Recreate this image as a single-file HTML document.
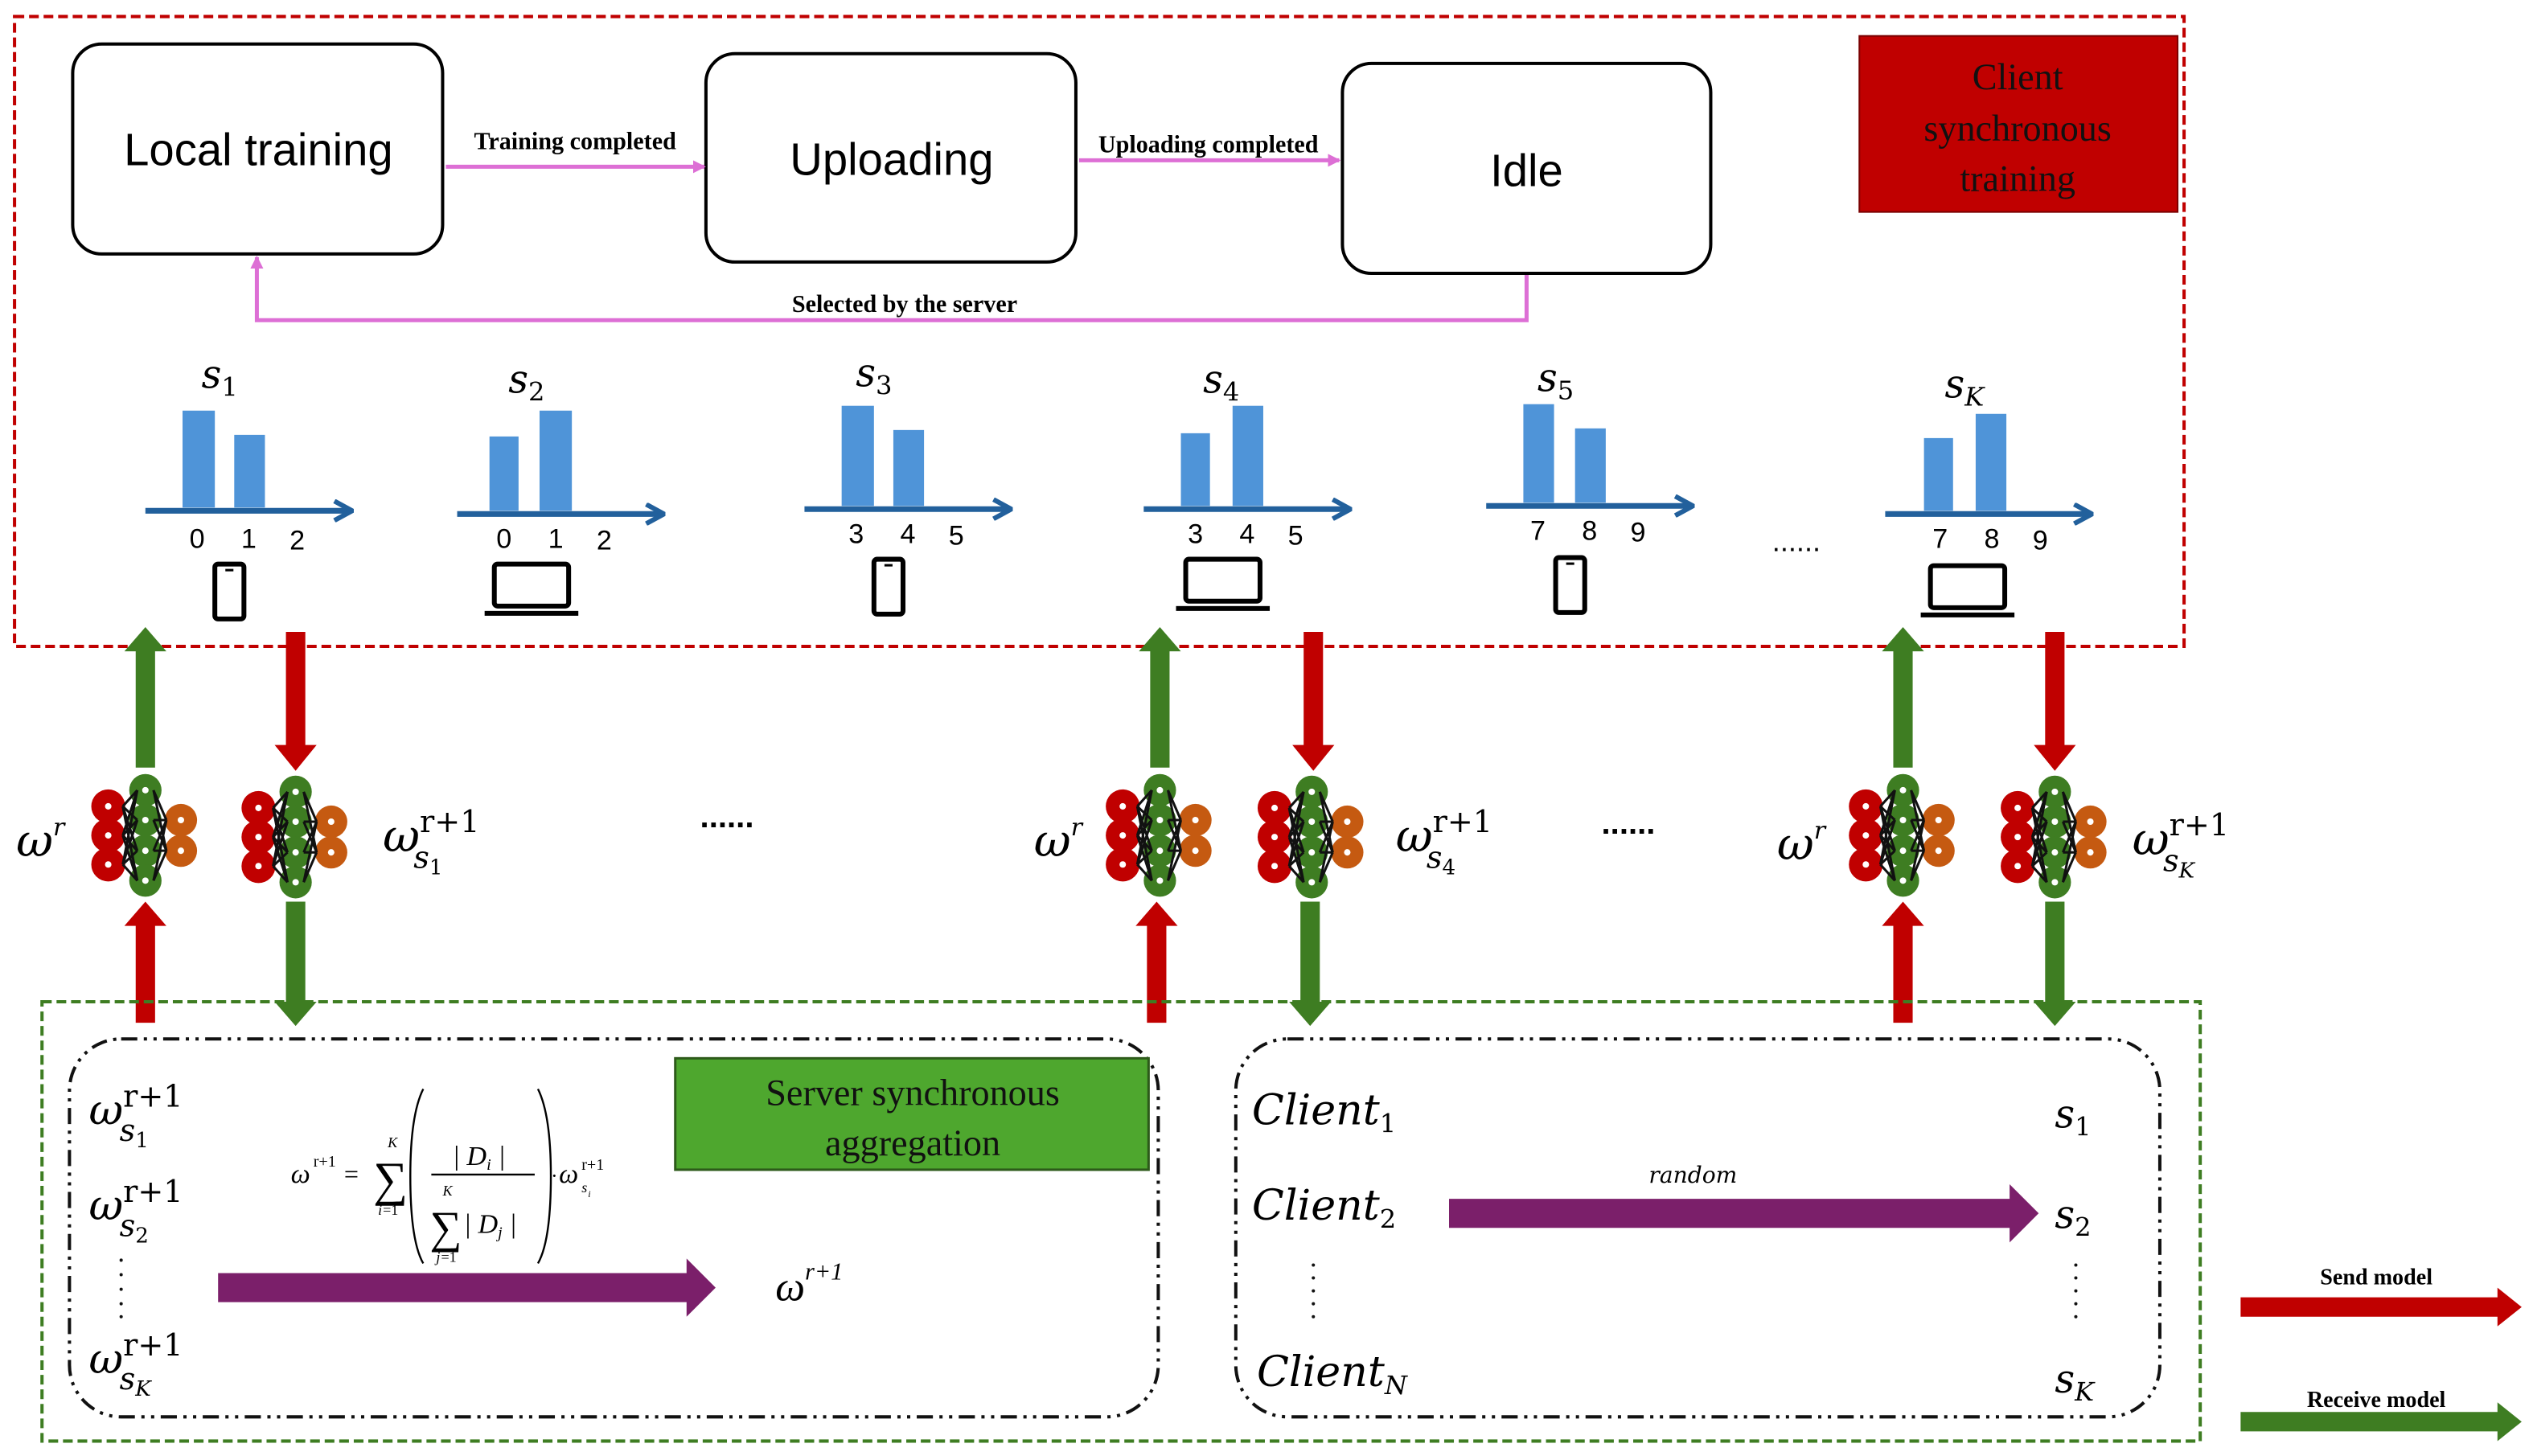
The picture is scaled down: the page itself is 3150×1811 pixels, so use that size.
<!DOCTYPE html>
<html><head><meta charset="utf-8"><style>
html,body{margin:0;padding:0;background:#fff;}
svg{display:block;}
.serif{font-family:"Liberation Serif",serif;}
.sans{font-family:"Liberation Sans",sans-serif;}
.m{font-family:"DejaVu Serif","Liberation Serif",serif;font-style:italic;}
</style></head><body>
<svg width="3150" height="1811" viewBox="0 0 1568 901" xmlns="http://www.w3.org/2000/svg">
<defs>
<g id="net">
  <g fill="#c00000"><circle cx="-23" cy="-18" r="10.5"/><circle cx="-23" cy="0" r="10.5"/><circle cx="-23" cy="18" r="10.5"/></g>
  <g fill="#c55a11"><circle cx="22" cy="-9.5" r="10"/><circle cx="22" cy="9.5" r="10"/></g>
  <g fill="#3e7d22"><circle cx="0" cy="-28" r="10"/><circle cx="0" cy="-9.5" r="10"/><circle cx="0" cy="9.5" r="10"/><circle cx="0" cy="28" r="10"/></g>
  <g stroke="#111" stroke-width="1.5" fill="none">
   <path d="M-14,-18 L-5,-28 M-14,-18 L-5,-9.5 M-14,-18 L-5,9.5 M-14,-18 L-5,28 M-14,0 L-5,-28 M-14,0 L-5,-9.5 M-14,0 L-5,9.5 M-14,0 L-5,28 M-14,18 L-5,-28 M-14,18 L-5,-9.5 M-14,18 L-5,9.5 M-14,18 L-5,28"/>
   <path d="M13,-9.5 L5,-28 M13,-9.5 L5,-9.5 M13,-9.5 L5,9.5 M13,-9.5 L5,28 M13,9.5 L5,-28 M13,9.5 L5,-9.5 M13,9.5 L5,9.5 M13,9.5 L5,28"/>
  </g>
  <g fill="#fff"><circle cx="-23" cy="-18" r="2"/><circle cx="-23" cy="0" r="2"/><circle cx="-23" cy="18" r="2"/><circle cx="22" cy="-9.5" r="2"/><circle cx="22" cy="9.5" r="2"/><circle cx="0" cy="-28" r="2"/><circle cx="0" cy="-9.5" r="2"/><circle cx="0" cy="9.5" r="2"/><circle cx="0" cy="28" r="2"/></g>
</g>
<g id="phone"><rect x="-9" y="0" width="18" height="34" rx="2" fill="none" stroke="#000" stroke-width="3"/><rect x="-2.5" y="3" width="5" height="1.5" fill="#000"/></g>
<g id="laptop"><rect x="-23" y="0" width="46" height="26" rx="2" fill="none" stroke="#000" stroke-width="3"/><rect x="-29" y="29" width="58" height="3" fill="#000"/></g>
<marker id="pk" markerWidth="8" markerHeight="8" refX="7" refY="4" orient="auto" markerUnits="userSpaceOnUse"><path d="M0,0 L8,4 L0,8 z" fill="#dd6fd5"/></marker>
<marker id="bl" markerWidth="14" markerHeight="14" refX="12" refY="7" orient="auto" markerUnits="userSpaceOnUse"><path d="M2,1 L13,7 L2,13" fill="none" stroke="#22609c" stroke-width="3"/></marker>
</defs>

<rect x="9" y="10" width="1343" height="390" fill="none" stroke="#c00000" stroke-width="2" stroke-dasharray="6,3"/>
<rect x="45" y="27" width="229" height="130" rx="18" fill="#fff" stroke="#000" stroke-width="2"/>
<rect x="437" y="33" width="229" height="129" rx="18" fill="#fff" stroke="#000" stroke-width="2"/>
<rect x="831" y="39" width="228" height="130" rx="18" fill="#fff" stroke="#000" stroke-width="2"/>
<text x="160" y="102" class="sans" font-size="28" text-anchor="middle">Local training</text>
<text x="552" y="108" class="sans" font-size="28" text-anchor="middle">Uploading</text>
<text x="945" y="115" class="sans" font-size="28" text-anchor="middle">Idle</text>
<rect x="1151" y="22" width="197" height="109" fill="#c00000" stroke="#7a0000" stroke-width="1"/>
<text class="serif" font-size="23" text-anchor="middle" fill="#111"><tspan x="1249" y="55">Client</tspan><tspan x="1249" y="87">synchronous</tspan><tspan x="1249" y="118">training</tspan></text>

<line x1="276" y1="103" x2="436" y2="103" stroke="#dd6fd5" stroke-width="2.5" marker-end="url(#pk)"/>
<text x="356" y="92" class="serif" font-size="15" font-weight="bold" text-anchor="middle">Training completed</text>
<line x1="668" y1="99" x2="829" y2="99" stroke="#dd6fd5" stroke-width="2.5" marker-end="url(#pk)"/>
<text x="748" y="94" class="serif" font-size="15" font-weight="bold" text-anchor="middle">Uploading completed</text>
<polyline points="945,170 945,198 159,198 159,159" fill="none" stroke="#dd6fd5" stroke-width="2.5" marker-end="url(#pk)"/>
<text x="560" y="193" class="serif" font-size="15" font-weight="bold" text-anchor="middle">Selected by the server</text>

<g fill="#4f94d8">
<rect x="113" y="254" width="20" height="60"/><rect x="145" y="269" width="19" height="45"/>
<rect x="303" y="270" width="18" height="46"/><rect x="334" y="254" width="20" height="62"/>
<rect x="521" y="251" width="20" height="62"/><rect x="553" y="266" width="19" height="47"/>
<rect x="731" y="268" width="18" height="45"/><rect x="763" y="251" width="19" height="62"/>
<rect x="943" y="250" width="19" height="61"/><rect x="975" y="265" width="19" height="46"/>
<rect x="1191" y="271" width="18" height="45"/><rect x="1223" y="256" width="19" height="60"/>
</g>
<g stroke="#22609c" stroke-width="3.5">
<line x1="90" y1="316" x2="217" y2="316" marker-end="url(#bl)"/>
<line x1="283" y1="318" x2="410" y2="318" marker-end="url(#bl)"/>
<line x1="498" y1="315" x2="625" y2="315" marker-end="url(#bl)"/>
<line x1="708" y1="315" x2="835" y2="315" marker-end="url(#bl)"/>
<line x1="920" y1="313" x2="1047" y2="313" marker-end="url(#bl)"/>
<line x1="1167" y1="318" x2="1294" y2="318" marker-end="url(#bl)"/>
</g>
<g class="sans" font-size="17" text-anchor="middle">
<text x="122" y="339">0</text><text x="154" y="339">1</text><text x="184" y="340">2</text>
<text x="312" y="339">0</text><text x="344" y="339">1</text><text x="374" y="340">2</text>
<text x="530" y="336">3</text><text x="562" y="336">4</text><text x="592" y="337">5</text>
<text x="740" y="336">3</text><text x="772" y="336">4</text><text x="802" y="337">5</text>
<text x="952" y="334">7</text><text x="984" y="334">8</text><text x="1014" y="335">9</text>
<text x="1201" y="339">7</text><text x="1233" y="339">8</text><text x="1263" y="340">9</text>
</g>
<g class="m" font-size="24" text-anchor="middle">
<text x="136" y="240">s<tspan font-size="16" font-style="normal" dy="5">1</tspan></text>
<text x="326" y="243">s<tspan font-size="16" font-style="normal" dy="5">2</tspan></text>
<text x="541" y="239">s<tspan font-size="16" font-style="normal" dy="5">3</tspan></text>
<text x="756" y="243">s<tspan font-size="16" font-style="normal" dy="5">4</tspan></text>
<text x="963" y="242">s<tspan font-size="16" font-style="normal" dy="5">5</tspan></text>
<text x="1216" y="246">s<tspan font-size="16" dy="5">K</tspan></text>
</g>
<use href="#phone" x="142" y="349"/><use href="#laptop" x="329" y="349"/><use href="#phone" x="550" y="346"/>
<use href="#laptop" x="757" y="346"/><use href="#phone" x="972" y="345"/><use href="#laptop" x="1218" y="350"/>
<text x="1112" y="341" class="sans" font-size="18" text-anchor="middle">......</text>

<g fill="#3e7d22">
<path d="M84,475 V403 H77 L90,388 L103,403 H96 V475 Z"/>
<path d="M712,475 V403 H705 L718,388 L731,403 H724 V475 Z"/>
<path d="M1172,475 V403 H1165 L1178,388 L1191,403 H1184 V475 Z"/>
<path d="M177,558 V620 H170 L183,635 L196,620 H189 V558 Z"/>
<path d="M805,558 V620 H798 L811,635 L824,620 H817 V558 Z"/>
<path d="M1266,558 V620 H1259 L1272,635 L1285,620 H1278 V558 Z"/>
</g>
<g fill="#c00000">
<path d="M177,391 V461 H170 L183,477 L196,461 H189 V391 Z"/>
<path d="M807,391 V461 H800 L813,477 L826,461 H819 V391 Z"/>
<path d="M1266,391 V461 H1259 L1272,477 L1285,461 H1278 V391 Z"/>
<path d="M84,633 V573 H77 L90,558 L103,573 H96 V633 Z"/>
<path d="M710,633 V573 H703 L716,558 L729,573 H722 V633 Z"/>
<path d="M1172,633 V573 H1165 L1178,558 L1191,573 H1184 V633 Z"/>
</g>
<use href="#net" x="90" y="517"/><use href="#net" x="183" y="518"/><use href="#net" x="718" y="517"/>
<use href="#net" x="812" y="518"/><use href="#net" x="1178" y="517"/><use href="#net" x="1272" y="518"/>

<g class="m" font-size="28">
<text x="10" y="530">ω<tspan font-size="15" dy="-13">r</tspan></text>
<text x="640" y="530">ω<tspan font-size="15" dy="-13">r</tspan></text>
<text x="1100" y="532">ω<tspan font-size="15" dy="-13">r</tspan></text>
<text x="237" y="527">ω<tspan font-size="19" font-style="normal" dy="-12">r+1</tspan><tspan font-size="19" x="256" dy="22">s</tspan><tspan font-size="13" font-style="normal" dy="4">1</tspan></text>
<text x="864" y="527">ω<tspan font-size="19" font-style="normal" dy="-12">r+1</tspan><tspan font-size="19" x="883" dy="22">s</tspan><tspan font-size="13" font-style="normal" dy="4">4</tspan></text>
<text x="1320" y="529">ω<tspan font-size="19" font-style="normal" dy="-12">r+1</tspan><tspan font-size="19" x="1339" dy="22">s</tspan><tspan font-size="13" dy="4">K</tspan></text>
</g>
<text x="450" y="512" class="sans" font-size="20" font-weight="bold" text-anchor="middle">......</text>
<text x="1008" y="516" class="sans" font-size="20" font-weight="bold" text-anchor="middle">......</text>

<rect x="26" y="620" width="1336" height="272" fill="none" stroke="#3e7d22" stroke-width="2" stroke-dasharray="6,3"/>
<rect x="43" y="643" width="674" height="234" rx="32" fill="none" stroke="#111" stroke-width="2" stroke-dasharray="10,4,2,4,2,4"/>
<rect x="765" y="643" width="572" height="234" rx="32" fill="none" stroke="#111" stroke-width="2" stroke-dasharray="10,4,2,4,2,4"/>
<rect x="418" y="655" width="293" height="69" fill="#4ea72e" stroke="#2d5a1a" stroke-width="1.5"/>
<text class="serif" font-size="23" text-anchor="middle" fill="#111"><tspan x="565" y="684">Server synchronous</tspan><tspan x="565" y="715">aggregation</tspan></text>

<g class="m" font-size="26">
<text x="55" y="696">ω<tspan font-size="19" font-style="normal" dy="-11">r+1</tspan><tspan font-size="19" x="74" dy="21">s</tspan><tspan font-size="13" font-style="normal" dy="4">1</tspan></text>
<text x="55" y="755">ω<tspan font-size="19" font-style="normal" dy="-11">r+1</tspan><tspan font-size="19" x="74" dy="21">s</tspan><tspan font-size="13" font-style="normal" dy="4">2</tspan></text>
<text x="55" y="850">ω<tspan font-size="19" font-style="normal" dy="-11">r+1</tspan><tspan font-size="19" x="74" dy="21">s</tspan><tspan font-size="13" dy="4">K</tspan></text>
<text x="480" y="805" font-family="Liberation Serif,serif">ω<tspan font-size="15" dy="-13">r+1</tspan></text>
</g>
<g fill="#111"><circle cx="75" cy="780" r="1"/><circle cx="75" cy="789" r="1"/><circle cx="75" cy="798" r="1"/><circle cx="75" cy="807" r="1"/><circle cx="75" cy="815" r="1"/></g>

<g class="serif" font-style="italic" fill="#000">
<text x="180" y="732" font-size="17">ω</text><text x="194" y="722" font-size="10" font-style="normal">r+1</text>
<text x="213" y="732" font-size="16" font-style="normal">=</text>
<text x="231" y="740" font-size="30" font-style="normal">∑</text>
<text x="240" y="710" font-size="9">K</text><text x="234" y="752" font-size="9">i</text><text x="237" y="752" font-size="9" font-style="normal">=1</text>
<path d="M262,674 Q254,690 254,728 Q254,768 262,782" fill="none" stroke="#000" stroke-width="1.2"/>
<path d="M333,674 Q341,690 341,728 Q341,768 333,782" fill="none" stroke="#000" stroke-width="1.2"/>
<text x="280" y="721" font-size="17">| D<tspan font-size="10" dy="3">i</tspan><tspan dy="-3"> |</tspan></text>
<line x1="267" y1="727" x2="331" y2="727" stroke="#000" stroke-width="1.2"/>
<text x="266" y="769" font-size="28" font-style="normal">∑</text>
<text x="274" y="740" font-size="9">K</text><text x="270" y="781" font-size="9">j</text><text x="273" y="781" font-size="9" font-style="normal">=1</text>
<text x="287" y="763" font-size="17">| D<tspan font-size="10" dy="3">j</tspan><tspan dy="-3"> |</tspan></text>
<text x="341" y="732" font-size="13" font-style="normal">·</text>
<text x="346" y="732" font-size="17">ω</text><text x="360" y="724" font-size="10" font-style="normal">r+1</text><text x="360" y="738" font-size="9">s</text><text x="364" y="741" font-size="6">i</text>
</g>
<path d="M135,788 H425 V779 L443,797 L425,815 V806 H135 Z" fill="#7b1f6a"/>

<g class="m" font-size="26">
<text x="775" y="696">Client<tspan font-size="16" font-style="normal" dy="5">1</tspan></text>
<text x="775" y="755">Client<tspan font-size="16" font-style="normal" dy="5">2</tspan></text>
<text x="778" y="858">Client<tspan font-size="16" dy="5">N</tspan></text>
<text x="1272" y="698" font-size="24">s<tspan font-size="16" font-style="normal" dy="5">1</tspan></text>
<text x="1272" y="760" font-size="24">s<tspan font-size="16" font-style="normal" dy="5">2</tspan></text>
<text x="1272" y="862" font-size="24">s<tspan font-size="16" dy="5">K</tspan></text>
</g>
<g fill="#111"><circle cx="813" cy="783" r="1"/><circle cx="813" cy="791" r="1"/><circle cx="813" cy="799" r="1"/><circle cx="813" cy="807" r="1"/><circle cx="813" cy="815" r="1"/>
<circle cx="1285" cy="783" r="1"/><circle cx="1285" cy="791" r="1"/><circle cx="1285" cy="799" r="1"/><circle cx="1285" cy="807" r="1"/><circle cx="1285" cy="815" r="1"/></g>
<path d="M897,742 H1244 V733 L1262,751 L1244,769 V760 H897 Z" fill="#7b1f6a"/>
<text x="1048" y="732" class="m" font-size="14" text-anchor="middle">random</text>

<text x="1471" y="795" class="serif" font-size="14" font-weight="bold" text-anchor="middle">Send model</text>
<path d="M1387,803 H1546 V797 L1561,809 L1546,821 V815 H1387 Z" fill="#c00000"/>
<text x="1471" y="871" class="serif" font-size="14" font-weight="bold" text-anchor="middle">Receive model</text>
<path d="M1387,874 H1546 V868 L1561,880 L1546,892 V886 H1387 Z" fill="#3e7d22"/>
</svg>
</body></html>
